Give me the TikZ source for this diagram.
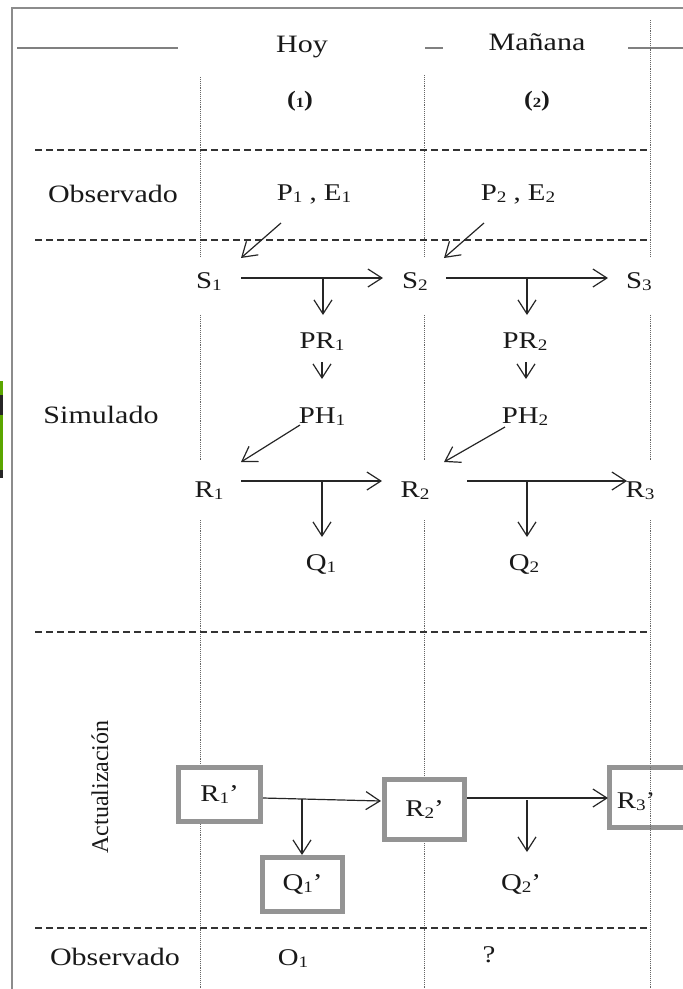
\documentclass[tikz,border=0pt]{standalone}
\usepackage{fontspec}
\setmainfont[FakeStretch=1.2]{Liberation Serif}
\newfontfamily\plainfont{Liberation Serif}
\usetikzlibrary{arrows.meta,calc}
\newcommand{\sbx}[1]{\raisebox{-2pt}{\fontsize{16}{16}\selectfont #1}}
\begin{document}
\begin{tikzpicture}[x=1pt,y=-1pt,
  lbl/.style={font=\fontsize{25}{30}\selectfont, inner sep=0pt, anchor=base, text=black!90},
  sym/.style={font=\fontsize{24}{28}\selectfont, inner sep=0pt, anchor=base, text=black!90},
  num/.style={font=\fontsize{22}{24}\selectfont\bfseries, inner sep=0pt, anchor=base, text=black!90},
  arr/.style={-{Straight Barb[length=14pt,width=18pt]}, line width=1.2pt, draw=black!85},
  dotline/.style={draw=black!60, line width=0.8pt, dash pattern=on 0.8pt off 1.1pt},
  dline/.style={draw=black!80, line width=1.3pt, dash pattern=on 7pt off 4pt},
  hline/.style={draw=black!50, line width=1.5pt},
  box/.style={draw=black!42, line width=5pt, inner sep=0pt, font=\fontsize{24}{28}\selectfont, text=black!90}]
\useasboundingbox (0,0) rectangle (683,989);
% frame
\draw[draw=black!45, line width=1.5pt] (683,8) -- (12,8) -- (12,989);
% left artifact
\fill[green!45!yellow!65!black] (0,381) rectangle (3,395);
\fill[black!85] (0,395) rectangle (3,415);
\fill[green!45!yellow!65!black] (0,415) rectangle (3,470);
\fill[black!85] (0,470) rectangle (3,478);
% header lines
\draw[hline] (17,48) -- (178,48);
\draw[hline] (425,48) -- (443,48);
\draw[hline] (628,48) -- (683,48);
% dotted column lines
\foreach \x/\s in {200/77, 424/75, 650/20} {
  \draw[dotline] (\x,\s) -- (\x,257);
  \draw[dotline] (\x,315) -- (\x,460);
  \draw[dotline] (\x,520) -- (\x,989);
}
% dashed separators
\foreach \y in {150,240,632,928} { \draw[dline] (35,\y) -- (650,\y); }
% header texts
\node[lbl] (hoy) at (302,52) {Hoy};
\node[lbl] (man) at (537,50) {Mañana};
\node[num] (c1) at (300,106) {(\raisebox{-1pt}{\fontsize{14}{14}\selectfont 1})};
\node[num] (c2) at (537,106) {(\raisebox{-1pt}{\fontsize{14}{14}\selectfont 2})};
% row labels
\node[lbl] (obs1) at (113,202) {Observado};
\node[lbl] (sim) at (101,423) {Simulado};
\node[lbl] (obs2) at (115,965) {Observado};
\node[font=\plainfont\fontsize{24}{28}\selectfont, rotate=90, inner sep=0pt, text=black!90] (act) at (100,787) {Actualización};
% observed inputs
\node[sym] (PE1) at (314,200) {P\sbx{1} , E\sbx{1}};
\node[sym] (PE2) at (518,200) {P\sbx{2} , E\sbx{2}};
% simulated
\node[sym] (S1) at (209,288) {S\sbx{1}};
\node[sym] (S2) at (415,288) {S\sbx{2}};
\node[sym] (S3) at (639,288) {S\sbx{3}};
\node[sym] (PR1) at (322,348) {PR\sbx{1}};
\node[sym] (PR2) at (525,348) {PR\sbx{2}};
\node[sym] (PH1) at (322,423) {PH\sbx{1}};
\node[sym] (PH2) at (525,423) {PH\sbx{2}};
\node[sym] (R1) at (209,497) {R\sbx{1}};
\node[sym] (R2) at (415,497) {R\sbx{2}};
\node[sym] (R3) at (640,497) {R\sbx{3}};
\node[sym] (Q1) at (321,570) {Q\sbx{1}};
\node[sym] (Q2) at (524,570) {Q\sbx{2}};
% update boxes
\node[box, fill=white, minimum width=82pt, minimum height=54pt] (R1p) at (219.5,794.5) {R\sbx{1}’};
\node[box, fill=white, minimum width=80pt, minimum height=60pt] (R2p) at (424.5,809.5) {R\sbx{2}’};
\node[box, fill=white, minimum width=80pt, minimum height=54pt] (Q1p) at (302.5,884.5) {Q\sbx{1}’};
\node[box, minimum width=80pt, minimum height=60pt] (R3p) at (649.5,797.5) {};
\node[sym] (R3t) at (636,808) {R\sbx{3}’};
\draw[dotline] (650,767) -- (650,828);
\node[sym] (Q2p) at (521,890) {Q\sbx{2}’};
\node[sym] (O1) at (293,965) {O\sbx{1}};
\node[sym] (qm) at (489,962) {?};
% arrow end coordinates
\coordinate (pe1s) at (281,223); \coordinate (s1n) at (241,258);
\coordinate (pe2s) at (484,223); \coordinate (s2n) at (444,258);
\coordinate (s1e) at (241,278); \coordinate (s2w) at (383,278);
\coordinate (s2e) at (446,278); \coordinate (s3w) at (608,278);
\coordinate (j1) at (323,278); \coordinate (pr1n) at (323,315);
\coordinate (j2) at (527,278); \coordinate (pr2n) at (527,315);
\coordinate (pr1s) at (322,362); \coordinate (ph1n) at (322,379);
\coordinate (pr2s) at (526,362); \coordinate (ph2n) at (526,379);
\coordinate (ph1s) at (300,425); \coordinate (r1n) at (241,462);
\coordinate (ph2s) at (505,427); \coordinate (r2n) at (444,462);
\coordinate (r1e) at (241,481); \coordinate (r2w) at (382,481);
\coordinate (r2e) at (467,481); \coordinate (r3w) at (627,481);
\coordinate (j3) at (322,481); \coordinate (q1n) at (322,537);
\coordinate (j4) at (527,481); \coordinate (q2n) at (527,537);
\coordinate (r1pe) at (263,798); \coordinate (r2pw) at (381,801);
\coordinate (r2pe) at (467,798); \coordinate (r3pw) at (608,798);
\coordinate (j5) at (302,799); \coordinate (q1pn) at (302,855);
\coordinate (j6) at (527,800); \coordinate (q2pn) at (527,852);
% arrows
\draw[arr] (pe1s) -- (s1n);
\draw[arr] (pe2s) -- (s2n);
\draw[arr] (s1e) -- (s2w);
\draw[arr] (s2e) -- (s3w);
\draw[arr] (j1) -- (pr1n);
\draw[arr] (j2) -- (pr2n);
\draw[arr] (pr1s) -- (ph1n);
\draw[arr] (pr2s) -- (ph2n);
\draw[arr] (ph1s) -- (r1n);
\draw[arr] (ph2s) -- (r2n);
\draw[arr] (r1e) -- (r2w);
\draw[arr] (r2e) -- (r3w);
\draw[arr] (j3) -- (q1n);
\draw[arr] (j4) -- (q2n);
\draw[arr] (r1pe) -- (r2pw);
\draw[arr] (r2pe) -- (r3pw);
\draw[arr] (j5) -- (q1pn);
\draw[arr] (j6) -- (q2pn);
\end{tikzpicture}
\end{document}
